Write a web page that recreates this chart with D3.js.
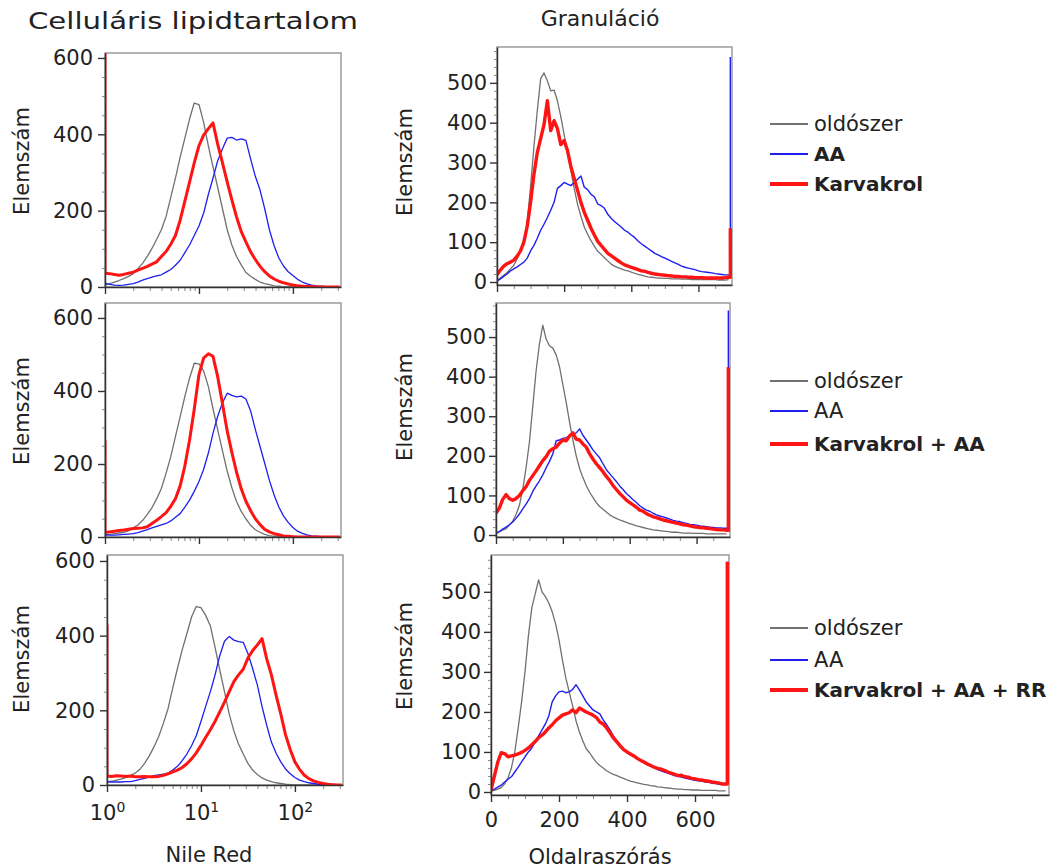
<!DOCTYPE html>
<html>
<head>
<meta charset="utf-8">
<script src="https://cdn.jsdelivr.net/npm/d3@7"></script>
<style>
  body { margin: 0; background: #fff; }
  text { font-family: "DejaVu Sans", "Liberation Sans", sans-serif; fill: #222; }
</style>
</head>
<body>
<svg id="chart" width="1052" height="868"></svg>
<script>
// --- Data: Nile Red (log bins) ---
const nileRed = [1,1.12,1.26,1.41,1.58,1.78,2,2.24,2.51,2.82,3.16,3.55,3.98,4.47,5.01,5.62,6.31,7.08,7.94,8.91,
  10,11.2,12.6,14.1,15.8,17.8,20,22.4,25.1,28.2,31.6,35.5,39.8,44.7,50.1,56.2,63.1,70.8,79.4,89.1,
  100,112,126,141,158,178,200,224,251,282,316];

const lipidGray1 = [5,9,13,17,22,28,35,48,62,80,101,125,150,185,235,285,340,390,440,482,478,432,370,315,262,205,150,110,80,58,38,28,20,13,9,6,3,2,1,1,0,0,0,0,0,0,0,0,0,0,0];
const lipidBlue1 = [10,7,5,4,5,7,9,13,18,22,26,29,32,39,46,57,70,90,110,135,160,193,243,285,330,362,390,392,385,388,384,335,290,254,205,150,108,76,55,40,30,20,13,8,5,3,2,1,0,0,0];
const lipidRed1  = [36,35,33,31,33,36,39,44,49,54,60,66,80,93,112,135,175,225,275,325,370,398,415,430,375,325,275,228,184,145,118,92,72,54,40,29,21,15,11,8,5,3,2,1,1,0,0,0,0,0,0];

const lipidGray2 = [5,7,9,11,13,17,25,33,45,62,80,105,133,175,220,275,330,385,435,476,474,455,412,352,295,236,180,135,97,70,50,32,20,13,7,4,2,1,0,0,0,0,0,0,0,0,0,0,0,0,0];
const lipidBlue2 = [6,5,5,6,7,8,9,12,16,20,25,29,33,37,44,54,64,82,101,125,152,185,230,284,330,368,394,388,384,386,378,345,295,248,202,155,115,82,58,40,26,16,10,6,3,2,1,0,0,0,0];
const lipidRed2  = [12,14,16,18,19,21,23,24,25,28,37,46,56,67,84,105,140,195,265,350,445,490,502,495,440,365,290,232,178,132,98,72,50,34,21,14,9,6,3,2,1,0,0,0,0,0,0,0,0,0,0];

const lipidGray3 = [8,10,13,16,20,26,32,42,58,78,102,130,165,205,260,312,362,405,450,478,475,455,426,370,310,250,190,145,110,83,58,40,28,19,13,9,6,4,2,1,0,0,0,0,0,0,0,0,0,0,0];
const lipidBlue3 = [9,8,8,8,9,9,12,15,18,22,25,27,29,32,40,50,65,83,105,132,170,210,250,294,345,385,398,388,384,382,352,312,268,210,160,115,85,62,43,30,20,13,9,6,4,2,1,0,0,0,0];
const lipidRed3  = [24,23,25,24,23,24,22,22,23,22,22,23,26,30,35,40,47,57,70,86,106,127,148,170,195,222,250,277,295,310,340,360,375,392,338,295,240,190,135,95,62,42,26,17,11,7,4,2,1,0,0];

// first-bin pile-up of the red curves (value at 10^0)
const lipidRedSpike = [640, 265, 430];

// --- Data: side scatter (linear bins) ---
const sideScatter = [0,10,20,30,40,50,60,70,80,90,100,110,120,130,140,150,160,170,180,190,
  200,210,220,230,240,250,260,270,280,290,300,310,320,330,340,350,360,370,380,390,
  400,410,420,430,440,450,460,470,480,490,500,510,520,530,540,550,560,570,580,590,
  600,610,620,630,640,650,660,670,680,690];
const granEdge = 695;

const granGray1 = [4,10,17,24,33,42,58,78,105,150,240,340,430,510,525,505,480,482,455,415,370,325,280,235,195,165,138,120,104,90,77,70,61,53,45,40,36,33,30,28,25,22,19,17,15,13,12,11,10,10,9,9,8,8,8,7,7,7,6,6,6,6,6,6,6,6,5,5,5,6];
const granBlue1 = [2,8,14,20,28,33,38,44,50,60,78,92,110,130,145,162,180,200,235,242,250,246,242,250,258,266,238,232,220,214,196,192,185,170,160,152,145,138,130,125,118,112,103,96,90,84,78,72,68,64,60,56,52,48,44,40,37,35,33,31,28,26,25,24,23,21,20,19,18,18];
const granRed1  = [18,30,40,46,50,55,65,78,100,140,200,270,325,360,395,455,380,405,385,345,355,330,290,260,230,200,175,155,135,118,102,92,82,72,66,60,54,48,43,40,37,34,31,28,27,24,22,20,19,18,17,16,15,14,14,13,13,12,12,11,11,11,10,10,10,10,10,10,11,12];

const granGray2 = [4,8,12,16,25,35,52,75,115,170,235,325,415,483,530,495,478,472,455,425,380,335,285,240,200,168,145,125,108,95,82,72,65,58,51,46,42,38,35,32,29,26,23,21,19,17,15,13,12,11,10,9,8,7,7,6,5,5,5,4,4,4,4,3,3,3,3,3,3,3];
const granBlue2 = [4,9,15,20,26,33,42,53,66,78,92,110,124,137,152,170,186,205,238,240,244,246,250,255,258,268,252,240,228,215,205,195,180,165,155,145,135,124,115,105,97,89,82,74,68,63,60,55,51,48,46,43,40,37,35,34,31,29,27,26,25,23,22,21,20,19,18,18,17,17];
const granRed2  = [55,68,90,102,92,88,92,100,112,122,138,150,162,175,188,198,212,218,222,232,240,238,250,258,242,240,230,222,205,192,180,170,160,148,138,125,115,105,97,88,82,76,70,63,60,54,50,46,44,41,38,36,34,32,30,28,26,25,23,21,20,19,18,17,16,15,14,13,13,12];

const granGray3 = [2,4,7,11,20,35,60,100,160,225,300,390,460,495,530,500,488,472,450,420,380,330,285,250,215,178,150,128,108,98,85,74,66,60,53,48,44,41,37,34,30,27,25,23,21,19,18,16,15,13,12,11,10,9,8,7,7,6,6,5,5,5,4,4,4,4,4,3,3,3];
const granBlue3 = [3,7,12,17,25,32,38,50,62,75,88,100,110,125,140,155,170,190,225,240,250,252,248,250,256,268,255,240,225,215,205,200,195,180,168,155,140,128,118,108,100,95,90,84,78,73,68,64,60,56,53,50,47,44,41,39,37,35,33,31,29,28,27,25,24,22,21,20,19,19];
const granRed3  = [5,40,75,98,96,88,90,92,95,99,104,110,118,126,136,142,150,160,168,178,185,192,195,198,205,198,210,205,200,196,192,186,175,170,160,148,135,125,115,106,100,95,90,84,79,75,70,66,62,59,57,54,50,47,44,41,42,38,37,34,33,31,30,28,27,25,24,22,20,20];

// right-edge pile-up (last bin)
const granBlueSpike = [565, 567, 575];
const granRedSpike = [135, 424, 575];

// --- Legend ---
const seriesNames = ["oldószer", "AA"];
const treatmentNames = ["Karvakrol", "Karvakrol + AA", "Karvakrol + AA + RR"];

const colors = { gray: "#707070", blue: "#1f1ff0", red: "#ff1414" };

const svg = d3.select("#chart");
const defs = svg.append("defs");

// --- Layout ---
const lipidRows = [
  { x0: 105, x1: 341, top: 53, bottom: 287, ymin: 0, ymax: 613, labelY: 161 },
  { x0: 105, x1: 341, top: 303, bottom: 537, ymin: 0, ymax: 641, labelY: 411 },
  { x0: 107, x1: 343, top: 555, bottom: 785, ymin: 0, ymax: 616, labelY: 659 }
];
const granRows = [
  { x0: 497, x1: 732, top: 47, bottom: 285, ymin: -7.5, ymax: 590, labelY: 162 },
  { x0: 496, x1: 730, top: 303, bottom: 537, ymin: -5, ymax: 586, labelY: 407 },
  { x0: 491, x1: 729, top: 555, bottom: 795, ymin: -7.5, ymax: 592, labelY: 656 }
];

function styleAxis(sel, major) {
  sel.select(".domain").attr("stroke", "#333").attr("stroke-width", 1.5);
  sel.selectAll(".tick line").attr("stroke", major ? "#333" : "#888").attr("stroke-width", major ? 1.4 : 1);
  sel.selectAll(".tick text").attr("font-size", "21px").attr("fill", "#222")
    .style("font-family", "'DejaVu Sans', sans-serif");
}

function drawPanel(id, cfg, x, series, o) {
  const y = d3.scaleLinear().domain([cfg.ymin, cfg.ymax]).range([cfg.bottom, cfg.top]);
  const g = svg.append("g");

  defs.append("clipPath").attr("id", id).append("rect")
    .attr("x", cfg.x0).attr("y", cfg.top)
    .attr("width", cfg.x1 - cfg.x0).attr("height", cfg.bottom - cfg.top);

  g.append("rect")
    .attr("x", cfg.x0).attr("y", cfg.top)
    .attr("width", cfg.x1 - cfg.x0).attr("height", cfg.bottom - cfg.top)
    .attr("fill", "none").attr("stroke", "#8c8c8c").attr("stroke-width", 1.3);

  const line = d3.line().x(d => x(d[0])).y(d => y(d[1]));
  series.forEach(s => {
    g.append("path").datum(s.points)
      .attr("d", line)
      .attr("fill", "none")
      .attr("stroke", colors[s.color])
      .attr("stroke-width", s.width)
      .attr("stroke-linejoin", "round")
      .attr("clip-path", `url(#${id})`);
  });

  // y axis
  g.append("g").attr("transform", `translate(${cfg.x0},0)`)
    .call(d3.axisLeft(y).tickValues(o.yMinor).tickSize(3).tickSizeOuter(0).tickFormat(""))
    .call(a => { a.select(".domain").remove(); styleAxis(a, false); });
  g.append("g").attr("transform", `translate(${cfg.x0},0)`)
    .call(d3.axisLeft(y).tickValues(o.yMajor).tickSize(7).tickSizeOuter(0).tickPadding(o.yPad).tickFormat(d3.format("d")))
    .call(a => styleAxis(a, true));

  // x axis
  g.append("g").attr("transform", `translate(0,${cfg.bottom})`)
    .call(d3.axisBottom(x).tickValues(o.xMinor).tickSize(4).tickSizeOuter(0).tickFormat(""))
    .call(a => { a.select(".domain").remove(); styleAxis(a, false); });
  const xa = g.append("g").attr("transform", `translate(0,${cfg.bottom})`)
    .call(d3.axisBottom(x).tickValues(o.xMajor).tickSize(7).tickSizeOuter(0).tickPadding(o.xPad)
      .tickFormat(o.showX ? o.xFormat : ""))
    .call(a => styleAxis(a, true));
  if (o.showX && o.log) {
    xa.selectAll(".tick text").each(function(d) {
      const t = d3.select(this);
      t.text("10");
      t.append("tspan").attr("dy", "-0.55em").attr("font-size", "14px")
        .text(Math.round(Math.log10(d)));
    });
  }

  // y title
  svg.append("text")
    .attr("transform", `translate(${o.labelX},${cfg.labelY}) rotate(-90)`)
    .attr("text-anchor", "middle").attr("dy", "0.35em")
    .attr("font-size", "21px")
    .text("Elemszám");
}

// --- Left column: Celluláris lipidtartalom ---
const lipidData = [
  [lipidGray1, lipidBlue1, lipidRed1],
  [lipidGray2, lipidBlue2, lipidRed2],
  [lipidGray3, lipidBlue3, lipidRed3]
];
const lipidMinor = [50,100,150,250,300,350,450,500,550];
const logMinor = [2,3,4,5,6,7,8,9,20,30,40,50,60,70,80,90,200,300];

lipidRows.forEach((cfg, r) => {
  const x = d3.scaleLog().domain([1, 325]).range([cfg.x0, cfg.x1]);
  const [gv, bv, rv] = lipidData[r];
  const pts = v => v.map((d, i) => [nileRed[i], d]);
  const redPts = [[nileRed[0], lipidRedSpike[r]]].concat(pts(rv));
  drawPanel("clipL" + r, cfg, x, [
    { points: pts(gv), color: "gray", width: 1.3 },
    { points: pts(bv), color: "blue", width: 1.3 },
    { points: redPts, color: "red", width: 3 }
  ], {
    yMajor: [0, 200, 400, 600], yMinor: lipidMinor, yPad: 5,
    xMajor: [1, 10, 100], xMinor: logMinor, xPad: 13,
    showX: r === 2, log: true, xFormat: d => d, labelX: 22
  });
});

// --- Right column: Granuláció ---
const granData = [
  [granGray1, granBlue1, granRed1],
  [granGray2, granBlue2, granRed2],
  [granGray3, granBlue3, granRed3]
];
const granMinor = [20,40,60,80,120,140,160,180,220,240,260,280,320,340,360,380,420,440,460,480,520,540,560,580];

granRows.forEach((cfg, r) => {
  const x = d3.scaleLinear().domain([0, 700]).range([cfg.x0, cfg.x1]);
  const [gv, bv, rv] = granData[r];
  const pts = v => v.map((d, i) => [sideScatter[i], d]);
  const withSpike = (v, s) => pts(v).concat([[granEdge, v[v.length - 1]], [granEdge, s]]);
  drawPanel("clipR" + r, cfg, x, [
    { points: pts(gv), color: "gray", width: 1.3 },
    { points: withSpike(bv, granBlueSpike[r]), color: "blue", width: 1.4 },
    { points: withSpike(rv, granRedSpike[r]), color: "red", width: 3.4 }
  ], {
    yMajor: [0, 100, 200, 300, 400, 500], yMinor: granMinor, yPad: 3,
    xMajor: [0, 200, 400, 600], xMinor: [50,100,150,250,300,350,450,500,550,650], xPad: 10,
    showX: r === 2, log: false, xFormat: d3.format("d"), labelX: 405
  });
});

// --- Titles ---
svg.append("text").attr("x", 193).attr("y", 29).attr("text-anchor", "middle")
  .attr("font-size", "23px")
  .attr("textLength", 330).attr("lengthAdjust", "spacingAndGlyphs")
  .text("Celluláris lipidtartalom");
svg.append("text").attr("x", 600).attr("y", 26).attr("text-anchor", "middle")
  .attr("font-size", "22px").text("Granuláció");
svg.append("text").attr("x", 209).attr("y", 862).attr("text-anchor", "middle")
  .attr("font-size", "21px").text("Nile Red");
svg.append("text").attr("x", 600).attr("y", 864).attr("text-anchor", "middle")
  .attr("font-size", "21px").text("Oldalraszórás");

// --- Legends ---
const legendY = [[124, 154, 184], [381, 411, 444], [628, 660, 690]];
const legendBold = [[false, true, true], [false, false, true], [false, false, true]];
const legendStroke = { gray: 2, blue: 2, red: 4 };

legendY.forEach((ys, r) => {
  const labels = seriesNames.concat([treatmentNames[r]]);
  ["gray", "blue", "red"].forEach((c, i) => {
    svg.append("line")
      .attr("x1", 770).attr("x2", 808).attr("y1", ys[i]).attr("y2", ys[i])
      .attr("stroke", colors[c]).attr("stroke-width", legendStroke[c]);
    svg.append("text")
      .attr("x", 814).attr("y", ys[i]).attr("dy", "0.35em")
      .attr("font-size", legendBold[r][i] ? "20px" : "21px")
      .attr("font-weight", legendBold[r][i] ? "bold" : "normal")
      .text(labels[i]);
  });
});
</script>
</body>
</html>
